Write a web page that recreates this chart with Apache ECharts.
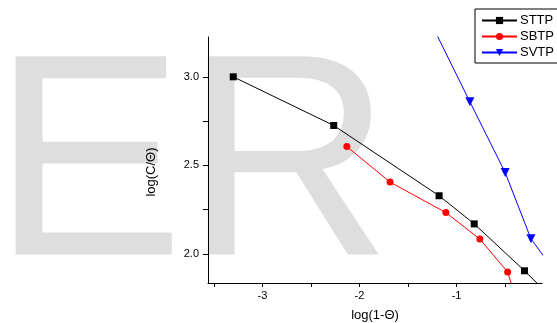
<!DOCTYPE html>
<html>
<head>
<meta charset="utf-8">
<script src="https://cdn.jsdelivr.net/npm/echarts@6/dist/echarts.min.js"></script>
<style>
  html, body { margin: 0; padding: 0; background: #fff; }
  #chart { width: 557px; height: 323px; }
</style>
</head>
<body>
<div id="chart"></div>
<script>
  // values: [log(1-Θ), log(C/Θ)]
  var sttp = [[-3.30, 3.00], [-2.265, 2.725], [-1.18, 2.328], [-0.818, 2.169], [-0.30, 1.904], [0.0, 1.742]];
  var sbtp = [[-2.13, 2.606], [-1.685, 2.405], [-1.11, 2.233], [-0.76, 2.083], [-0.474, 1.897], [-0.39, 1.75]];
  var svtp = [[-1.30, 3.345], [-0.863, 2.859], [-0.499, 2.459], [-0.234, 2.085], [0.0, 1.91]];
  var xTicks = [-3.5, -3, -2.5, -2, -1.5, -1, -0.5];
  var xLabels = [-3, -2, -1];
  var yTicks = [2.0, 2.25, 2.5, 2.75, 3.0];
  var yLabels = [2.0, 2.5, 3.0];

  var font = 'Liberation Sans';
  var chart = echarts.init(document.getElementById('chart'));

  function lineSeries(name, data, color, symbol, size, rotate) {
    return {
      name: name,
      type: 'line',
      data: data,
      clip: true,
      symbol: symbol,
      symbolSize: size,
      symbolRotate: rotate || 0,
      showAllSymbol: true,
      z: 5,
      lineStyle: { color: color, width: 1 },
      itemStyle: { color: color },
      emphasis: { disabled: true }
    };
  }

  var option = {
    animation: false,
    graphic: [{
      type: 'text',
      z: -10,
      silent: true,
      left: -8,
      top: 31,
      style: {
        text: 'ER',
        font: '288px "Liberation Sans"',
        fill: '#dedede'
      }
    }],
    grid: { left: 208, top: 37, right: 15, bottom: 40, containLabel: false, outerBoundsMode: 'none' },
    legend: {
      left: 475,
      top: 9,
      orient: 'vertical',
      padding: [5, 30, 4, 6],
      itemWidth: 35,
      itemHeight: 9,
      itemGap: 3,
      borderColor: '#000',
      borderWidth: 1,
      backgroundColor: '#fff',
      textStyle: { fontFamily: font, fontSize: 13, color: '#000', padding: [0, 0, 0, -2] },
      data: ['STTP', 'SBTP', 'SVTP']
    },
    xAxis: {
      type: 'value',
      min: -3.56,
      max: -0.12,
      name: 'log(1-Θ)',
      nameLocation: 'middle',
      nameGap: 26,
      nameTextStyle: { fontFamily: font, fontSize: 13, color: '#000' },
      axisLine: { show: true, onZero: false, lineStyle: { color: '#000', width: 1 } },
      axisTick: { show: true, length: 4, customValues: xTicks, lineStyle: { color: '#000' } },
      axisLabel: { customValues: xLabels, fontFamily: font, fontSize: 11, color: '#000', margin: 7 },
      splitLine: { show: false }
    },
    yAxis: {
      type: 'value',
      min: 1.835,
      max: 3.225,
      name: 'log(C/Θ)',
      nameLocation: 'middle',
      nameGap: 50,
      nameTextStyle: { fontFamily: font, fontSize: 13, color: '#000', padding: [0, 24, 0, 0] },
      axisLine: { show: true, onZero: false, lineStyle: { color: '#000', width: 1 } },
      axisTick: { show: true, length: 5, customValues: yTicks, lineStyle: { color: '#000' } },
      axisLabel: {
        customValues: yLabels,
        fontFamily: font, fontSize: 11, color: '#000', margin: 9,
        formatter: function (v) { return v.toFixed(1); }
      },
      splitLine: { show: false }
    },
    series: [
      lineSeries('STTP', sttp, '#000000', 'rect', 7),
      lineSeries('SBTP', sbtp, '#ff0000', 'circle', 7),
      lineSeries('SVTP', svtp, '#0000ff', 'triangle', 9, 180)
    ]
  };
  chart.setOption(option);
</script>
</body>
</html>
